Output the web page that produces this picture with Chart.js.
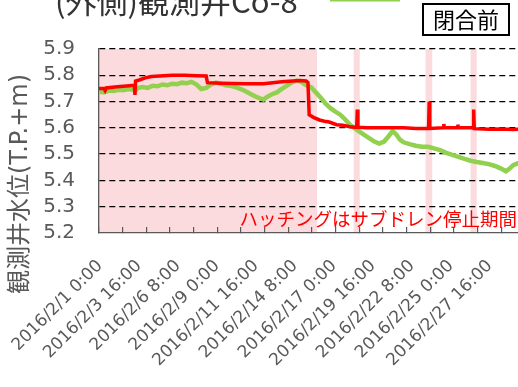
<!DOCTYPE html>
<html><head><meta charset="utf-8">
<script src="https://cdn.jsdelivr.net/npm/chart.js@4/dist/chart.umd.min.js"></script>
<style>
html,body{margin:0;padding:0;overflow:hidden;background:#fff;width:518px;height:387px;position:relative}
#wrap{position:absolute;left:0;top:-20px;width:540px;height:407px}
</style></head><body>
<div id="wrap"><canvas id="c" width="540" height="407" style="width:540px;height:407px"></canvas></div>
<script>
// ---- data (hours since 2016/2/1 0:00) ----
const greenHours = [0,8,16,24,32,40,48,56,60,64,72,80,88,96,104,112,120,128,136,144,152,160,168,176,184,192,200,208,216,224,232,240,248,256,264,270,276,284,292,300,308,316,324,332,340,348,356,364,372,380,388,396,404,412,420,428,436,444,452,460,468,476,482,488,494,500,510,520,530,540,550,560,570,580,590,600,610,620,630,640,650,660,668,674,680,688,696];
const greenLevels = [5.738,5.735,5.742,5.740,5.745,5.743,5.748,5.745,5.742,5.752,5.755,5.752,5.760,5.758,5.765,5.762,5.768,5.766,5.772,5.770,5.775,5.765,5.748,5.752,5.765,5.772,5.768,5.762,5.760,5.755,5.748,5.740,5.730,5.720,5.712,5.708,5.718,5.728,5.735,5.748,5.760,5.772,5.780,5.775,5.762,5.755,5.735,5.715,5.692,5.675,5.662,5.650,5.632,5.612,5.598,5.585,5.572,5.560,5.548,5.540,5.548,5.570,5.588,5.575,5.555,5.545,5.538,5.532,5.528,5.528,5.522,5.515,5.505,5.497,5.490,5.482,5.475,5.470,5.466,5.462,5.455,5.445,5.435,5.445,5.458,5.466,5.470];
const redHours = [0,8,10,12,30,50,58,59,60,66,76,86,100,120,140,160,176,178,200,240,270,300,330,340,343,345,352,362,370,378,390,400,412,420,423,424,425,440,470,500,520,541,542,543,565,566,567,588,589,590,614,615,616,640,660,680,696];
const redLevels = [5.750,5.750,5.742,5.752,5.756,5.760,5.762,5.725,5.778,5.782,5.790,5.795,5.797,5.800,5.800,5.798,5.797,5.772,5.770,5.768,5.768,5.775,5.780,5.778,5.772,5.650,5.640,5.630,5.625,5.622,5.612,5.610,5.604,5.602,5.602,5.670,5.602,5.600,5.600,5.600,5.598,5.598,5.700,5.598,5.600,5.615,5.600,5.600,5.612,5.600,5.600,5.670,5.597,5.595,5.596,5.594,5.596];
const hatchStart = [0, 418, 536, 610];
const hatchEnd   = [358, 428, 547, 620];
const labelHours = [0,64,128,192,256,320,384,448,512,576,640];
const tickLabels = ['2016/2/1 0:00','2016/2/3 16:00','2016/2/6 8:00','2016/2/9 0:00','2016/2/11 16:00','2016/2/14 8:00','2016/2/17 0:00','2016/2/19 16:00','2016/2/22 8:00','2016/2/25 0:00','2016/2/27 16:00'];
const yTicks = [5.2,5.3,5.4,5.5,5.6,5.7,5.8,5.9];
const titleText = '(外側)観測井Co-8';
const yTitleText = '観測井水位(T.P.+m)';
const noteText = 'ハッチングはサブドレン停止期間';
const boxText = '閉合前';

const xMax = 696;
const tickMarkStep = 38.85;
const tickMarkHours = [];
for (let h = 0; h <= xMax; h += tickMarkStep) tickMarkHours.push(h);

const FONT = "'Noto Sans CJK JP','Noto Sans',sans-serif";
const LFONT = "'DejaVu Sans','Noto Sans CJK JP',sans-serif";

const hatchPlugin = {
  id: 'hatch',
  beforeDraw(chart) {
    const {ctx, chartArea, scales} = chart;
    ctx.save();
    ctx.fillStyle = 'rgb(251,219,221)';
    for (let i = 0; i < hatchStart.length; i++) {
      const x1 = scales.x.getPixelForValue(hatchStart[i]);
      const x2 = scales.x.getPixelForValue(hatchEnd[i]);
      ctx.fillRect(x1, chartArea.top, x2 - x1, chartArea.bottom - chartArea.top);
    }
    ctx.restore();
  }
};

const decoPlugin = {
  id: 'deco',
  afterDraw(chart) {
    const {ctx} = chart;
    ctx.save();
    // title
    ctx.fillStyle = '#333';
    ctx.font = '31px ' + FONT;
    ctx.textAlign = 'left';
    ctx.textBaseline = 'alphabetic';
    ctx.fillText(titleText, 55, 33);
    // legend sample (green)
    ctx.strokeStyle = '#92D050';
    ctx.lineWidth = 5;
    ctx.beginPath(); ctx.moveTo(330, 19); ctx.lineTo(400, 19); ctx.stroke();
    // box
    ctx.fillStyle = '#fff';
    ctx.fillRect(423, 24, 86, 31);
    ctx.strokeStyle = '#000';
    ctx.lineWidth = 2;
    ctx.strokeRect(423, 24, 86, 31);
    ctx.fillStyle = '#000';
    ctx.font = '22px ' + FONT;
    ctx.textAlign = 'center';
    ctx.textBaseline = 'middle';
    ctx.fillText(boxText, 466, 40);
    // note
    ctx.fillStyle = '#FF0000';
    ctx.font = '18.5px ' + FONT;
    ctx.textAlign = 'right';
    ctx.fillText(noteText, 517, 239);
    // y title
    ctx.translate(20.5, 204);
    ctx.rotate(-Math.PI / 2);
    ctx.fillStyle = '#595959';
    ctx.font = '24px ' + LFONT;
    ctx.textAlign = 'center';
    ctx.textBaseline = 'middle';
    ctx.fillText(yTitleText, 0, 0);
    ctx.restore();
  }
};

new Chart(document.getElementById('c'), {
  type: 'line',
  data: {
    datasets: [
      { label: '観測井水位', data: redHours.map((h, i) => ({x: h, y: redLevels[i]})),
        borderColor: '#FF0000', borderWidth: 3.5, pointRadius: 0, tension: 0, fill: false,
        xAxisID: 'x', yAxisID: 'y' },
      { label: '観測井水位(外側)', data: greenHours.map((h, i) => ({x: h, y: greenLevels[i]})),
        borderColor: '#92D050', borderWidth: 4.5, pointRadius: 0, tension: 0, fill: false,
        xAxisID: 'x', yAxisID: 'y' }
    ]
  },
  options: {
    responsive: false,
    devicePixelRatio: 1,
    animation: false,
    layout: { padding: { top: 69, right: 17, left: 0, bottom: 0 } },
    plugins: { legend: { display: false }, tooltip: { enabled: false }, title: { display: false } },
    scales: {
      x: {
        type: 'linear', position: 'bottom', min: 0, max: xMax,
        afterBuildTicks: s => { s.ticks = tickMarkHours.map(v => ({value: v})); },
        ticks: { display: false },
        grid: { drawOnChartArea: false, drawTicks: true, tickLength: -6, color: '#595959', lineWidth: 1.2 },
        border: { display: true, color: '#595959', width: 1.3 },
        afterFit: s => { s.height = 0; s.paddingLeft = 0; s.paddingRight = 0; }
      },
      xl: {
        type: 'linear', position: 'bottom', min: 0, max: xMax,
        afterBuildTicks: s => { s.ticks = labelHours.map(v => ({value: v})); },
        ticks: { autoSkip: false, minRotation: 45, maxRotation: 45, padding: 23, labelOffset: 1, color: '#595959',
          font: { family: LFONT, size: 17 }, callback: (v, i) => tickLabels[i] },
        grid: { display: false, drawTicks: false },
        border: { display: false },
        afterFit: s => { s.height = 154; s.paddingLeft = 0; s.paddingRight = 0; }
      },
      y: {
        min: 5.2, max: 5.9,
        afterBuildTicks: s => { s.ticks = yTicks.map(v => ({value: v})); },
        ticks: { autoSkip: false, padding: 24, color: '#595959', font: { family: LFONT, size: 20 }, callback: v => v.toFixed(1) },
        grid: { drawTicks: false, lineWidth: 1.3,
          color: c => (c.tick && Math.abs(c.tick.value - 5.2) < 1e-6) ? 'rgba(0,0,0,0)' : '#000' },
        border: { display: true, color: '#595959', width: 1.3, dash: [6, 4] },
        afterFit: s => { s.width = 99; s.paddingTop = 0; s.paddingBottom = 0; }
      }
    }
  },
  plugins: [hatchPlugin, decoPlugin]
});
</script>
</body></html>
